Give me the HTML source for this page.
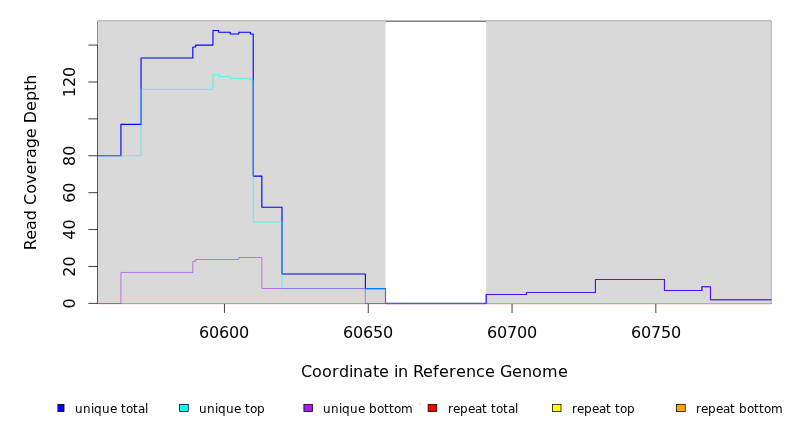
<!DOCTYPE html>
<html><head><meta charset="utf-8"><title>Read Coverage Depth</title>
<style>html,body{margin:0;padding:0;background:#fff;overflow:hidden}svg{display:block}</style></head>
<body>
<svg width="792" height="432" viewBox="0 0 792 432">
<rect width="792" height="432" fill="#fff"/>
<g shape-rendering="crispEdges">
<rect x="98" y="304" width="23" height="1" fill="#ffecec"/>
<rect x="121" y="304" width="244" height="1" fill="#ffe8f0"/>
<rect x="365" y="304" width="21" height="1" fill="#ffecec"/>
<rect x="386" y="304" width="100" height="1" fill="#e4cce8"/>
<rect x="486" y="304" width="285" height="1" fill="#ffdede"/>
<rect x="386" y="302" width="100" height="1" fill="#e9e9ff"/>
</g>
<g fill="none" stroke="#000" stroke-width="0.75" stroke-linecap="butt">
<rect x="97.92" y="21.12" width="672.96" height="282.24"/>
<path d="M97.92 303.36V45.1"/>
<path d="M97.92 303.36h-9.6"/>
<path d="M97.92 266.47h-9.6"/>
<path d="M97.92 229.57h-9.6"/>
<path d="M97.92 192.68h-9.6"/>
<path d="M97.92 155.78h-9.6"/>
<path d="M97.92 118.89h-9.6"/>
<path d="M97.92 82.0h-9.6"/>
<path d="M97.92 45.1h-9.6"/>
<path d="M224.46 303.36H655.84"/>
<path d="M224.46 303.36v9.6"/>
<path d="M368.25 303.36v9.6"/>
<path d="M512.05 303.36v9.6"/>
<path d="M655.84 303.36v9.6"/>
</g>
<rect x="97.92" y="21.12" width="287.59" height="282.24" fill="#d9d9d9"/>
<rect x="486.17" y="21.12" width="284.71" height="282.24" fill="#d9d9d9"/>
<clipPath id="pc"><rect x="97.92" y="21.12" width="673.96" height="283.24"/></clipPath>
<g clip-path="url(#pc)" fill="none" stroke-linejoin="round" stroke-linecap="round">
<g shape-rendering="crispEdges">
<rect x="98" y="303" width="23" height="1" fill="#cd557d"/>
<rect x="121" y="303" width="244" height="1" fill="#ff9800"/>
<rect x="365" y="303" width="21" height="1" fill="#cd557d"/>
<rect x="386" y="303" width="100" height="1" fill="#5550f5"/>
<rect x="486" y="303" width="285" height="1" fill="#78cd87"/>
<rect x="771" y="303" width="1" height="1" fill="#d06050"/>
</g>
<path d="M97.92 155.78H120.93V124.42H141.06V58.01H192.82V46.95H195.7V45.1H212.96V30.45H218.71V32.19H230.21V34.03H238.84V32.19H250.34V34.03H253.22V176.08H261.85V207.3H281.98V274.0H365.38V288.6H385.51V303.36" stroke="#0000ff" stroke-width="1.125"/>
<path d="M486.17 303.36L486.17 294.45H526.43V292.5H595.45V279.52H664.47V290.45H701.86V286.78H710.49V299.78H770.88" stroke="#0000ff" stroke-width="1.125"/>
<path d="M97.92 155.78H141.06V89.37H212.96V74.62H218.71V76.46H230.21V78.31H250.34V80.15H253.22V222.19H281.98V288.6H385.51V303.36" stroke="#00ffff" stroke-width="0.5625"/>
<path d="M120.93 303.36V272.45H192.82V261.42H195.7V259.45H238.84V257.45H261.85V288.5H365.38V303.36" stroke="#a020f0" stroke-width="0.5625"/>
<path d="M486.17 303.36L486.17 294.45H526.43V292.5H595.45V279.52H664.47V290.45H701.86V286.78H710.49V299.78H770.88" stroke="#a020f0" stroke-width="0.5625"/>
</g>
<g font-family="'DejaVu Sans','Liberation Sans',sans-serif" fill="#000" font-kerning="none" style="font-kerning:none">
<g font-size="16px">
<text x="199 209 219 229 239" y="338">60600</text>
<text x="343 353 363 373 383" y="338">60650</text>
<text x="487 497 507 517 527" y="338">60700</text>
<text x="631 641 651 661 671" y="338">60750</text>
<text x="301 312 322 332 339 349 353 363 373 379 389 394 398 408 413 423 433 439 449 456 466 476 485 495 500 512 522 532 542 558" y="377">Coordinate in Reference Genome</text>
</g>
<g font-size="16px" text-anchor="middle" font-kerning="auto" style="font-kerning:auto">
<text transform="translate(74.88 303.36) rotate(-90)">0</text>
<text transform="translate(74.88 266.47) rotate(-90)">20</text>
<text transform="translate(74.88 229.57) rotate(-90)">40</text>
<text transform="translate(74.88 192.68) rotate(-90)">60</text>
<text transform="translate(74.88 155.78) rotate(-90)">80</text>
<text transform="translate(74.88 82.0) rotate(-90)">120</text>
<text transform="translate(36.48 162.39) rotate(-90)">Read Coverage Depth</text>
</g>
<clipPath id="lc"><rect x="57.4" y="395" width="735" height="30"/></clipPath>
<g clip-path="url(#lc)" stroke="#000" stroke-width="0.75">
<rect x="55.4" y="404.35" width="8.64" height="7.2" fill="#0000ff"/>
<rect x="179.64" y="404.35" width="8.64" height="7.2" fill="#00ffff"/>
<rect x="303.88" y="404.35" width="8.64" height="7.2" fill="#a020f0"/>
<rect x="428.12" y="404.35" width="8.64" height="7.2" fill="#ff0000"/>
<rect x="552.36" y="404.35" width="8.64" height="7.2" fill="#ffff00"/>
<rect x="676.6" y="404.35" width="8.64" height="7.2" fill="#ffa500"/>
</g>
<rect x="419" y="403" width="2" height="1" fill="#d4d4d4" shape-rendering="crispEdges"/>
<g font-size="12px">
<text x="75 83 91 94 102 110 117 121 126 133 138 145" y="413">unique total</text>
<text x="199 207 215 218 226 234 241 245 250 257" y="413">unique top</text>
<text x="323 331 339 342 350 358 365 369 377 384 389 394 401" y="413">unique bottom</text>
<text x="448 453 460 468 475 482 487 491 496 503 508 515" y="413">repeat total</text>
<text x="572 577 584 592 599 606 611 615 620 627" y="413">repeat top</text>
<text x="696 701 708 716 723 730 735 739 747 754 759 764 771" y="413">repeat bottom</text>
</g>
</g>
</svg>
</body></html>
